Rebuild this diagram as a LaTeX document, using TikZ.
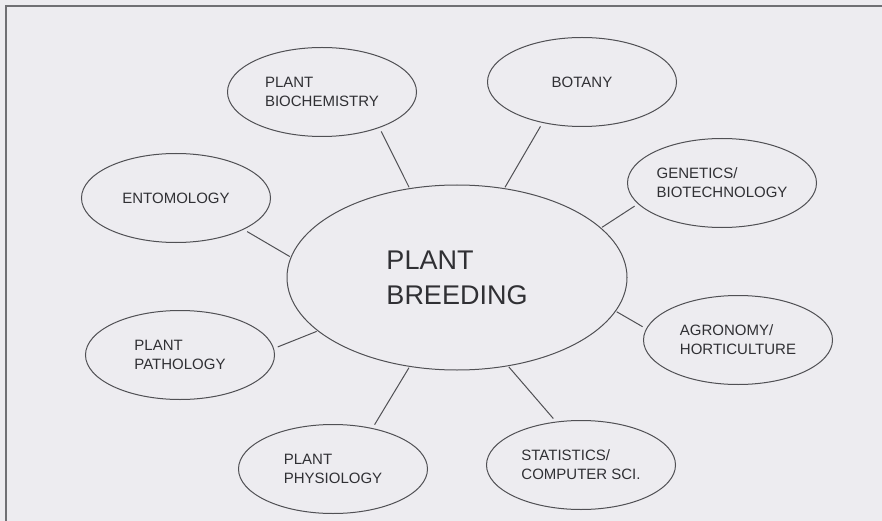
\documentclass[tikz,border=0pt]{standalone}
\usepackage{fontspec}
\setmainfont{Liberation Sans}
\usepackage{xcolor}
\usetikzlibrary{shapes.geometric}
\definecolor{paper}{RGB}{237,236,240}
\definecolor{ink}{RGB}{80,80,84}
\definecolor{letter}{RGB}{48,48,52}
\definecolor{frame}{RGB}{112,112,116}

\begin{document}
\begin{tikzpicture}[
  x=1pt,y=-1pt,
  field/.style={draw=ink,ellipse,line width=1pt,minimum width=189pt,minimum height=89pt,align=left,inner sep=0pt,text=letter,font=\fontsize{15}{19}\selectfont},
  core/.style={field,minimum width=340pt,minimum height=185pt,font=\fontsize{27}{35}\selectfont},
  link/.style={draw=ink,line width=1pt,shorten <=4pt,shorten >=1pt}
]
\useasboundingbox (0,0) rectangle (882,521);
\fill[paper] (0,0) rectangle (882,521);
\draw[frame,line width=2pt] (6,521) -- (6,6) -- (882,6);

% centre
\node[core] (breeding) at (457,277.5) {PLANT\\BREEDING};

% surrounding fields
\node[field] (biochem) at (322,92) {PLANT\\BIOCHEMISTRY};
\node[field] (botany) at (582,82) {BOTANY};
\node[field] (genetics) at (722,183) {GENETICS/\\BIOTECHNOLOGY};
\node[field] (entomology) at (176,198) {ENTOMOLOGY};
\node[field] (pathology) at (180,355) {PLANT\\PATHOLOGY};
\node[field] (physiology) at (333,469) {PLANT\\PHYSIOLOGY};
\node[field] (agronomy) at (738,340) {AGRONOMY/\\HORTICULTURE};
\node[field] (statistics) at (581,465) {STATISTICS/\\COMPUTER SCI.};

% spokes
\draw[link] (biochem.-32) -- (breeding.118);
\draw[link] (botany.-134) -- (breeding.62);
\draw[link] (genetics.-166) -- (breeding.19);
\draw[link] (entomology.-25) -- (breeding.173);
\draw[link] (pathology.4) -- (breeding.-159);
\draw[link] (physiology.46) -- (breeding.-118);
\draw[link] (statistics.120) -- (breeding.-60);
\draw[link] (agronomy.173) -- (breeding.-12);
\end{tikzpicture}
\end{document}
